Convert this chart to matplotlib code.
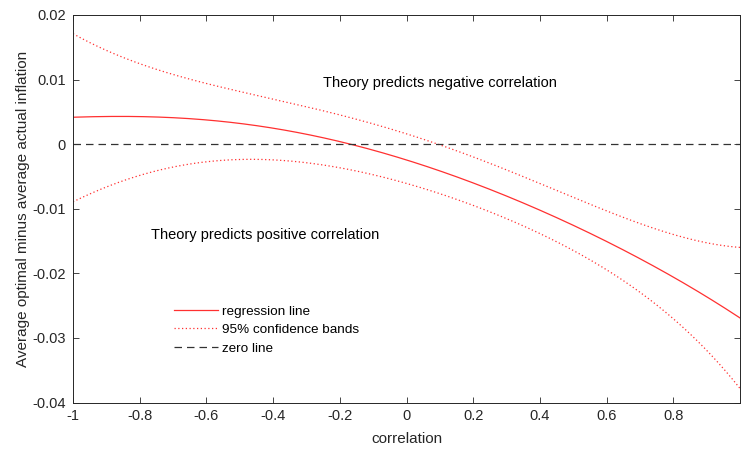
import numpy as np
import matplotlib
matplotlib.use("Agg")
import matplotlib.pyplot as plt

# Data
corr = [-1.0, -0.86, -0.8, -0.6, -0.51, -0.4, -0.31, -0.18, -0.08, 0.01, 0.22, 0.278, 0.4, 0.52, 0.6, 0.8, 1.0]
regression = [0.00414, 0.00436, 0.0043, 0.0037, 0.0031, 0.0025, 0.0019, 0.0, -0.0011, -0.0026, -0.0068, -0.0074, -0.0101, -0.0129, -0.0152, -0.0206, -0.0269]

corr_up = [-1.0, -0.8, -0.6, -0.4, -0.14, 0.01, 0.10, 0.278, 0.4, 0.52, 0.6, 0.8, 1.0]
upper = [0.0170, 0.0128, 0.0092, 0.0067, 0.0039, 0.0016, 0.0, -0.0037, -0.0060, -0.0088, -0.0106, -0.0136, -0.0161]

corr_lo = [-1.0, -0.8, -0.6, -0.49, -0.4, -0.2, 0.01, 0.278, 0.4, 0.52, 0.6, 0.8, 1.0]
lower = [-0.0087, -0.0055, -0.0027, -0.0018, -0.0020, -0.0040, -0.0068, -0.0112, -0.0137, -0.0160, -0.0197, -0.0277, -0.0376]

xticks = [-1, -0.8, -0.6, -0.4, -0.2, 0, 0.2, 0.4, 0.6, 0.8]
xticklabels = ["-1", "-0.8", "-0.6", "-0.4", "-0.2", "0", "0.2", "0.4", "0.6", "0.8"]
yticks = [-0.04, -0.03, -0.02, -0.01, 0, 0.01, 0.02]
yticklabels = ["-0.04", "-0.03", "-0.02", "-0.01", "0", "0.01", "0.02"]

plt.rcParams['font.family'] = ['Liberation Sans', 'DejaVu Sans']

fig = plt.figure(figsize=(7.41, 4.5), dpi=100)
ax = fig.add_axes([73/741, 1-402.5/450, (740-73)/741, (402.5-15)/450])

def smooth(xs, ys):
    xs = np.asarray(xs); ys = np.asarray(ys)
    xf = np.linspace(xs[0], xs[-1], 400)
    coef = np.polyfit(xs, ys, 5)
    return xf, np.polyval(coef, xf)

red = '#ff3030'
xr, yr = smooth(corr, regression)
xu, yu = smooth(corr_up, upper)
xl, yl = smooth(corr_lo, lower)

ax.plot(xr, yr, color=red, lw=0.9, label='regression line')
ax.plot(xu, yu, color=red, lw=0.9, ls=(0, (1, 2)), label='95% confidence bands')
ax.plot(xl, yl, color=red, lw=0.9, ls=(0, (1, 2)))
ax.plot([-1, 1], [0, 0], color='#333333', lw=0.9, ls=(0, (6, 4)), label='zero line')

ax.set_xlim(-1, 1)
ax.set_ylim(-0.04, 0.02)
ax.set_xticks(xticks)
ax.set_xticklabels(xticklabels)
ax.set_yticks(yticks)
ax.set_yticklabels(yticklabels)

gray = '#262626'
ax.tick_params(direction='in', length=4, width=0.6, colors=gray, labelsize=10.5,
               top=True, right=True, labeltop=False, labelright=False, pad=5)
for s in ax.spines.values():
    s.set_color(gray)
    s.set_linewidth(0.7)

ax.set_xlabel('correlation', fontsize=11, color=gray, labelpad=6)
ax.set_ylabel('Average optimal minus average actual inflation', fontsize=11, color=gray, labelpad=2)

ax.text(-0.25, 0.0095, 'Theory predicts negative correlation', fontsize=10.5, va='center', ha='left', color='black')
ax.text(-0.765, -0.014, 'Theory predicts positive correlation', fontsize=10.5, va='center', ha='left', color='black')

leg = ax.legend(loc='upper left', bbox_to_anchor=(0.143, 0.265), frameon=False, fontsize=9.7,
                handlelength=3.3, handletextpad=0.3, labelspacing=0.45, borderaxespad=0)

fig.savefig('out.png', dpi=100)
